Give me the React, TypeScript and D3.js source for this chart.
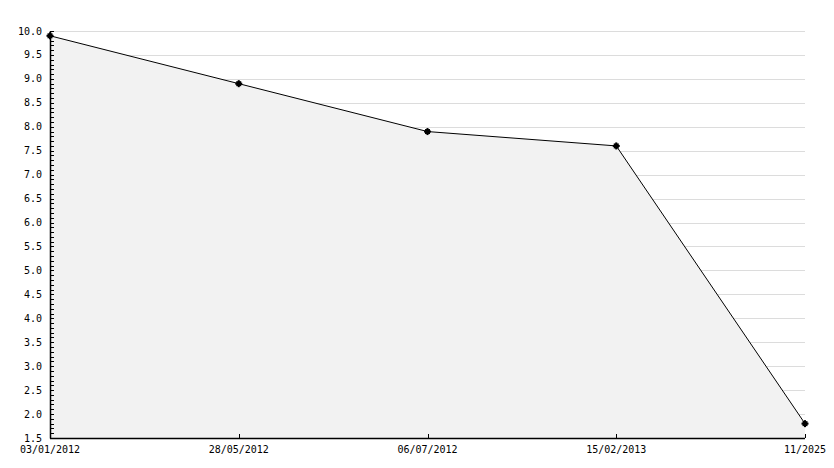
import React from "react";
import * as d3 from "d3";

const categories = ["03/01/2012", "28/05/2012", "06/07/2012", "15/02/2013", "11/2025"];
const values = [9.9, 8.9, 7.9, 7.6, 1.8];
const yTicks = [1.5, 2.0, 2.5, 3.0, 3.5, 4.0, 4.5, 5.0, 5.5, 6.0, 6.5, 7.0, 7.5, 8.0, 8.5, 9.0, 9.5, 10.0];
const yMinorTicks = d3.range(15, 101).map((v) => v / 10);

const W = 834;
const H = 468;
const left = 50;
const right = 805;
const top = 31;
const bottom = 438;

export default function App() {
  const x = d3.scalePoint<string>().domain(categories).range([left, right]);
  const y = d3.scaleLinear().domain([1.5, 10]).range([bottom, top]);
  const pts = categories.map((c, i) => [x(c) as number, y(values[i])] as [number, number]);
  const line = d3.line<[number, number]>()(pts) as string;
  const area = d3
    .area<[number, number]>()
    .x((d) => d[0])
    .y0(bottom)
    .y1((d) => d[1])(pts) as string;
  const font = "'DejaVu Sans Mono', monospace";
  return (
    <div style={{ position: "absolute", left: 0, top: 0 }}>
      <svg width={W} height={H} style={{ display: "block", background: "#fff" }}>
        {yTicks.map((t) => (
          <line key={"g" + t} x1={left} x2={right} y1={Math.round(y(t)) + 0.5} y2={Math.round(y(t)) + 0.5} stroke="#dcdcdc" strokeWidth={1} />
        ))}
        <path d={area} fill="#f2f2f2" />
        <path d={line} fill="none" stroke="#000" strokeWidth={1} />
        {yMinorTicks.map((t) => (
          <line key={"m" + t} x1={left} x2={left + 4} y1={Math.round(y(t)) + 0.5} y2={Math.round(y(t)) + 0.5} stroke="#000" strokeWidth={1} />
        ))}
        {categories.map((c) => (
          <line key={"xt" + c} x1={Math.round(x(c) as number) + 0.5} x2={Math.round(x(c) as number) + 0.5} y1={bottom} y2={bottom - 4} stroke="#000" strokeWidth={1} />
        ))}
        <line x1={left + 0.5} x2={left + 0.5} y1={top} y2={bottom + 0.5} stroke="#000" strokeWidth={1.5} />
        <line x1={left} x2={right} y1={bottom + 0.5} y2={bottom + 0.5} stroke="#000" strokeWidth={1.5} />
        {pts.map((p, i) => (
          <g key={"p" + i} transform={`translate(${p[0]},${p[1]})`}>
            <rect x={-2.5} y={-2.5} width={5} height={5} fill="#000" />
            <rect x={-3.5} y={-1} width={7} height={2} fill="#000" />
            <rect x={-1} y={-3.5} width={2} height={7} fill="#000" />
          </g>
        ))}
        {yTicks.map((t) => (
          <text key={"yl" + t} x={42} y={y(t) + 3.5} textAnchor="end" fontFamily={font} fontSize={10} fill="#000">
            {t.toFixed(1)}
          </text>
        ))}
        {categories.map((c) => (
          <text key={"xl" + c} x={x(c) as number} y={453} textAnchor="middle" fontFamily={font} fontSize={10} fill="#000">
            {c}
          </text>
        ))}
      </svg>
    </div>
  );
}
